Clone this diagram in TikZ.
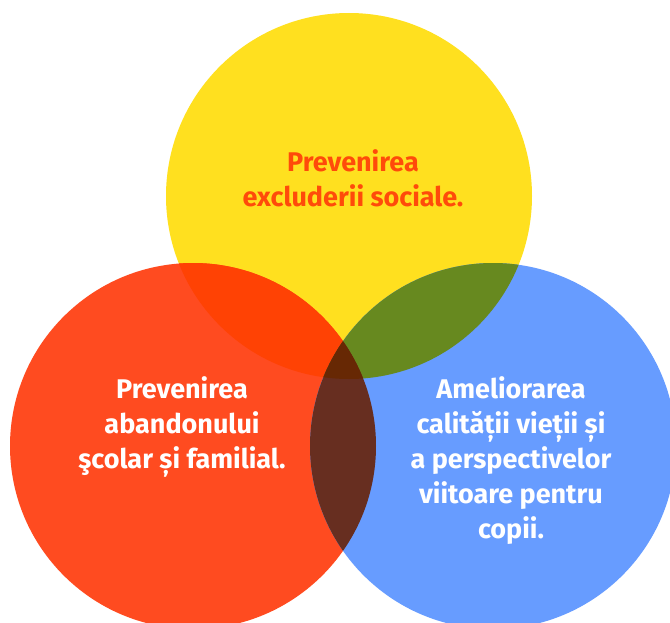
\documentclass[tikz,border=0pt]{standalone}
\usepackage{fontspec}
\setmainfont{Fira Sans}
\definecolor{cyel}{HTML}{FFE01F}
\definecolor{cred}{HTML}{FF4B20}
\definecolor{cblue}{HTML}{679CFF}
\definecolor{cyr}{HTML}{FF4204}
\definecolor{cyb}{HTML}{67891F}
\definecolor{crb}{HTML}{672E20}
\definecolor{call}{HTML}{672804}
\definecolor{ctxt}{HTML}{FF4B0A}
\begin{document}
\begin{tikzpicture}[x=1pt,y=-1pt,
  lbl/.style={align=center,font=\fontsize{27}{35}\selectfont\bfseries,inner sep=0pt,anchor=base}]
\useasboundingbox (0,0) rectangle (670,623);
\clip (0,0) rectangle (670,623);
\def\R{183}
\coordinate (Y) at (349,196);
\coordinate (Rc) at (193,446);
\coordinate (B) at (493,446);
\fill[cyel] (Y) circle (\R);
\fill[cred] (Rc) circle (\R);
\fill[cblue] (B) circle (\R);
\begin{scope}
  \clip (Y) circle (\R);
  \fill[cyr] (Rc) circle (\R);
  \fill[cyb] (B) circle (\R);
\end{scope}
\begin{scope}
  \clip (Rc) circle (\R);
  \fill[crb] (B) circle (\R);
  \clip (B) circle (\R);
  \fill[call] (Y) circle (\R);
\end{scope}
\node[lbl,text=ctxt] (ty) at (353,207) {Prevenirea\\excluderii sociale.};
\node[lbl,text=white] (tr) at (182,468) {Prevenirea\\abandonului\\şcolar și familial.};
\node[lbl,text=white] (tb) at (511,538) {Ameliorarea\\calității vieții și\\a perspectivelor\\viitoare pentru\\copii.};
\end{tikzpicture}
\end{document}
